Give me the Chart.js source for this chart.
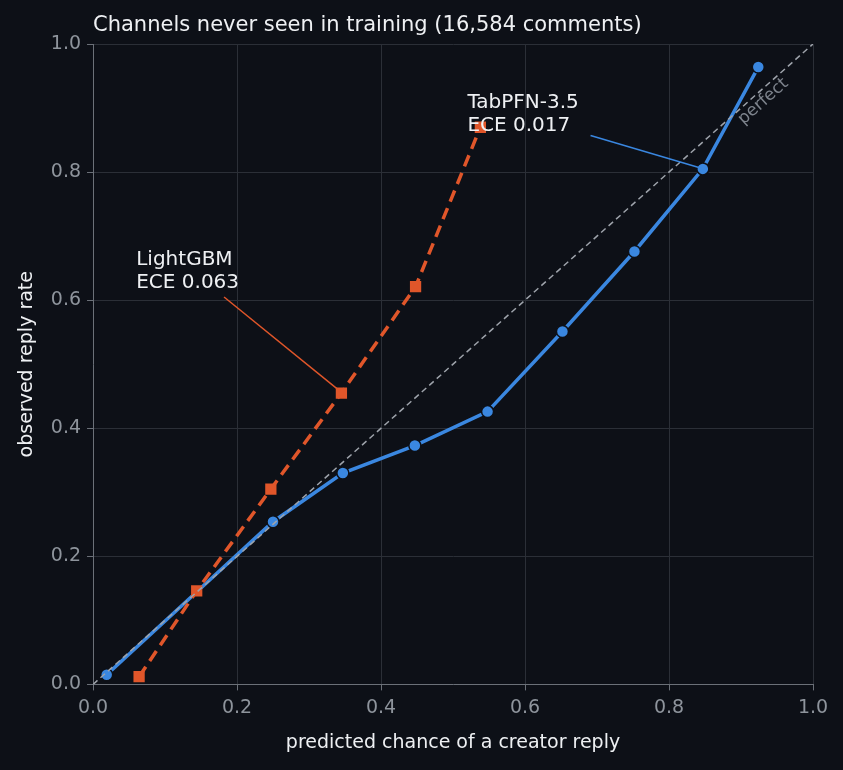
<!DOCTYPE html>
<html><head><meta charset="utf-8">
<script src="https://cdn.jsdelivr.net/npm/chart.js@4/dist/chart.umd.min.js"></script>
<style>html,body{margin:0;background:#0d1017;}#w{width:843px;height:770px;}</style>
</head><body><div id="w"><canvas id="c"></canvas></div>
<script>
const tabX=[0.019,0.250,0.347,0.447,0.548,0.652,0.752,0.847,0.924];
const tabY=[0.015,0.254,0.330,0.373,0.426,0.551,0.676,0.805,0.964];
const lgbX=[0.064,0.144,0.247,0.345,0.448,0.538];
const lgbY=[0.012,0.146,0.305,0.455,0.621,0.870];
const ticks=[0,0.2,0.4,0.6,0.8,1.0];
const TITLE='Channels never seen in training (16,584 comments)';
const BLUE='#3a87e0', ORANGE='#e0562a', BG='#0d1017';
const pts=(xs,ys)=>xs.map((x,i)=>({x,y:ys[i]}));
const ann={id:'ann',afterDatasetsDraw(ch){
  const c=ch.ctx,xs=ch.scales.x,ys=ch.scales.y;
  const X=v=>xs.getPixelForValue(v),Y=v=>ys.getPixelForValue(v);
  c.save();
  c.font='21px "DejaVu Sans"';c.fillStyle='#eef0f3';c.textBaseline='alphabetic';
  c.fillText(TITLE,ch.chartArea.left,ch.chartArea.top-13);
  c.font='20px "DejaVu Sans"';
  c.fillText('LightGBM',X(0.06),Y(0.655));c.fillText('ECE 0.063',X(0.06),Y(0.619));
  c.fillText('TabPFN-3.5',X(0.52),Y(0.9));c.fillText('ECE 0.017',X(0.52),Y(0.864));
  c.lineWidth=1.5;
  c.strokeStyle=ORANGE;c.beginPath();c.moveTo(X(0.182),Y(0.605));c.lineTo(X(0.343),Y(0.458));c.stroke();
  c.strokeStyle=BLUE;c.beginPath();c.moveTo(X(0.691),Y(0.857));c.lineTo(X(0.845),Y(0.806));c.stroke();
  c.translate(X(0.935),Y(0.905));c.rotate(-Math.atan((Y(0)-Y(1))/(X(1)-X(0))));
  c.font='17px "DejaVu Sans"';c.fillStyle='#7d838c';c.textAlign='center';c.fillText('perfect',0,0);
  c.restore();
}};
new Chart(document.getElementById('c'),{type:'scatter',
 data:{datasets:[
  {data:[{x:0,y:0},{x:1,y:1}],showLine:true,borderColor:'#9ea3ab',borderWidth:1.5,borderDash:[6,4],pointRadius:0},
  {data:pts(lgbX,lgbY),showLine:true,borderColor:ORANGE,backgroundColor:ORANGE,borderWidth:3.5,borderDash:[12,7],pointStyle:'rect',pointRadius:5.5},
  {data:pts(tabX,tabY),showLine:true,borderColor:BLUE,backgroundColor:BLUE,borderWidth:3.5,pointRadius:6,pointBorderColor:BG,pointBorderWidth:1.5}
 ]},
 options:{responsive:true,maintainAspectRatio:false,animation:false,
  layout:{padding:{left:12,right:30,top:44,bottom:12}},
  plugins:{legend:{display:false},tooltip:{enabled:false}},
  scales:{
   x:{min:0,max:1,afterBuildTicks:a=>{a.ticks=ticks.map(v=>({value:v}));},
      ticks:{color:'#8e949c',font:{size:19,family:'DejaVu Sans'},callback:v=>v.toFixed(1),padding:6},
      grid:{color:'#2b2f37',tickLength:6,tickColor:'#6b7078'},border:{color:'#6b7078'},
      title:{display:true,text:'predicted chance of a creator reply',color:'#eef0f3',font:{size:19,family:'DejaVu Sans'},padding:{top:6}}},
   y:{min:0,max:1,afterBuildTicks:a=>{a.ticks=ticks.map(v=>({value:v}));},
      ticks:{color:'#8e949c',font:{size:19,family:'DejaVu Sans'},callback:v=>v.toFixed(1),padding:6},
      grid:{color:'#2b2f37',tickLength:6,tickColor:'#6b7078'},border:{color:'#6b7078'},
      title:{display:true,text:'observed reply rate',color:'#eef0f3',font:{size:19,family:'DejaVu Sans'},padding:{bottom:6}}}
  }},
 plugins:[ann]});
</script></body></html>
